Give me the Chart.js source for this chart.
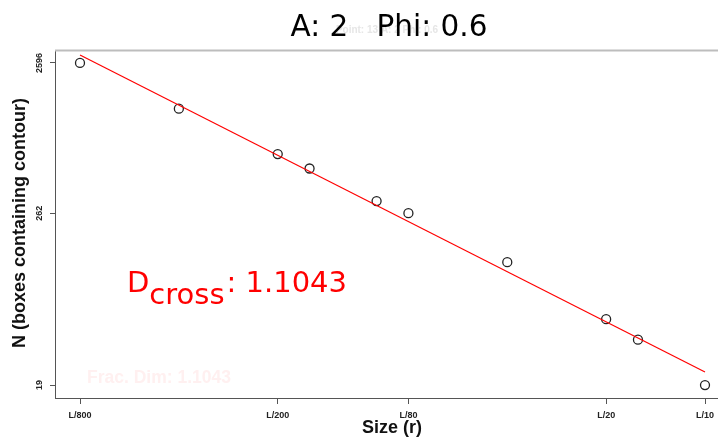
<!DOCTYPE html>
<html>
<head>
<meta charset="utf-8">
<script src="https://cdn.jsdelivr.net/npm/chart.js@4.4.1/dist/chart.umd.min.js"></script>
<style>
  html, body { margin: 0; padding: 0; background: #fff; }
  #wrap { width: 718px; height: 437px; position: relative; }
</style>
</head>
<body>
<div id="wrap"><canvas id="chart"></canvas></div>
<script>
// box size r = L / divisor
const sizeDivisors = [800, 400, 200, 160, 100, 80, 40, 20, 16, 10];
const boxCounts = [2596, 1291, 646, 518, 315, 262, 124, 52, 38, 19];

// ends of the fitted (red) line
const fitDivisors = [800, 10];
const fitCounts = [2925, 23.2];

const xTickDivisors = [800, 200, 80, 20, 10];
const yTickValues = [19, 262, 2596];

const titleText = 'A: 2   Phi: 0.6';
const ghostTitle = 'Point: 13 A: 2 Phi: 0.6';
const fracDim = '1.1043';

const AXIS_GREY = '#555';
const LABEL_FONT = '"Liberation Sans", Arial, sans-serif';
const DEJAVU = '"DejaVu Sans", sans-serif';

// log-axis limits: R style 4% padding (x is cut off at the right edge)
function padLog(lo, hi, fLo, fHi) {
    const a = Math.log10(lo), b = Math.log10(hi), r = b - a;
    return [Math.pow(10, a - r * fLo), Math.pow(10, b + r * fHi)];
}
const [xMin, xMax] = padLog(1 / 800, 1 / 10, 0.04, 0.0208);
const [yMin, yMax] = padLog(19, 2596, 0.04, 0.04);

const textLayer = {
    id: 'textLayer',
    beforeDatasetsDraw(chart) {
        const { ctx, chartArea: a } = chart;
        ctx.save();
        // grey rule along the top of the plot
        ctx.strokeStyle = '#bdbdbd';
        ctx.lineWidth = 2;
        ctx.beginPath();
        ctx.moveTo(a.left, a.top + 0.5);
        ctx.lineTo(a.right, a.top + 0.5);
        ctx.stroke();

        // faint leftovers
        ctx.fillStyle = '#e6e6e6';
        ctx.font = 'bold 10px ' + LABEL_FONT;
        ctx.textAlign = 'center';
        ctx.textBaseline = 'alphabetic';
        ctx.fillText(ghostTitle, 387, 33);

        ctx.fillStyle = '#fff0f0';
        ctx.font = 'bold 17.5px ' + LABEL_FONT;
        ctx.textAlign = 'left';
        ctx.fillText('Frac. Dim: ' + fracDim, 87, 383);
        ctx.restore();
    },
    afterDraw(chart) {
        const { ctx } = chart;
        ctx.save();
        ctx.fillStyle = '#000';
        ctx.font = '29.5px ' + DEJAVU;
        ctx.textAlign = 'center';
        ctx.textBaseline = 'alphabetic';
        ctx.fillText(titleText, 389, 36);

        // axis titles
        ctx.fillStyle = '#111';
        ctx.font = 'bold 18px ' + LABEL_FONT;
        ctx.fillText('Size (r)', 392, 433);
        ctx.translate(25, 223);
        ctx.rotate(-Math.PI / 2);
        ctx.fillText('N (boxes containing contour)', 0, 0);
        ctx.setTransform(1, 0, 0, 1, 0, 0);

        // D_cross label
        ctx.fillStyle = '#ff0000';
        ctx.font = '29px ' + DEJAVU;
        ctx.textAlign = 'left';
        let x = 127;
        ctx.fillText('D', x, 292);
        x += ctx.measureText('D').width;
        ctx.fillText('cross', x, 304);
        x += ctx.measureText('cross').width + 2;
        ctx.fillText(': ' + fracDim, x, 292);
        ctx.restore();
    }
};

new Chart(document.getElementById('chart'), {
    type: 'scatter',
    data: {
        datasets: [
            {
                label: 'fit',
                type: 'line',
                data: fitDivisors.map((d, i) => ({ x: 1 / d, y: fitCounts[i] })),
                borderColor: '#ff0000',
                borderWidth: 1.2,
                pointRadius: 0,
                fill: false
            },
            {
                label: 'N',
                data: sizeDivisors.map((d, i) => ({ x: 1 / d, y: boxCounts[i] })),
                pointStyle: 'circle',
                pointRadius: 4.5,
                borderColor: '#222',
                borderWidth: 1.3,
                backgroundColor: 'rgba(0,0,0,0)'
            }
        ]
    },
    options: {
        responsive: true, maintainAspectRatio: false,
        animation: false,
        layout: { autoPadding: false, padding: { top: 50, left: 0, right: 0, bottom: 0 } },
        plugins: { legend: { display: false }, tooltip: { enabled: false } },
        scales: {
            x: {
                type: 'logarithmic',
                min: xMin, max: xMax, bounds: 'data',
                afterBuildTicks: s => { s.ticks = xTickDivisors.map(d => ({ value: 1 / d })); },
                afterFit: s => { s.height = 39; s.paddingLeft = 0; s.paddingRight = 0; },
                grid: { drawOnChartArea: false, drawTicks: true, tickLength: 6, color: AXIS_GREY },
                border: { display: true, color: AXIS_GREY, width: 1 },
                ticks: {
                    autoSkip: false, maxRotation: 0, padding: 6,
                    color: '#222', font: { family: LABEL_FONT, size: 9, weight: 'bold' },
                    callback: (v, i) => 'L/' + xTickDivisors[i]
                }
            },
            y: {
                type: 'logarithmic',
                min: yMin, max: yMax, bounds: 'data',
                afterBuildTicks: s => { s.ticks = yTickValues.map(v => ({ value: v })); },
                afterFit: s => { s.width = 55; s.paddingTop = 0; s.paddingBottom = 0; },
                grid: { drawOnChartArea: false, drawTicks: true, tickLength: 5, color: AXIS_GREY },
                border: { display: true, color: AXIS_GREY, width: 1 },
                ticks: {
                    autoSkip: false, minRotation: 90, maxRotation: 90, padding: 0,
                    crossAlign: 'center',
                    color: '#222', font: { family: LABEL_FONT, size: 9, weight: 'bold' },
                    callback: (v, i) => String(yTickValues[i])
                }
            }
        }
    },
    plugins: [textLayer]
});
</script>
</body>
</html>
